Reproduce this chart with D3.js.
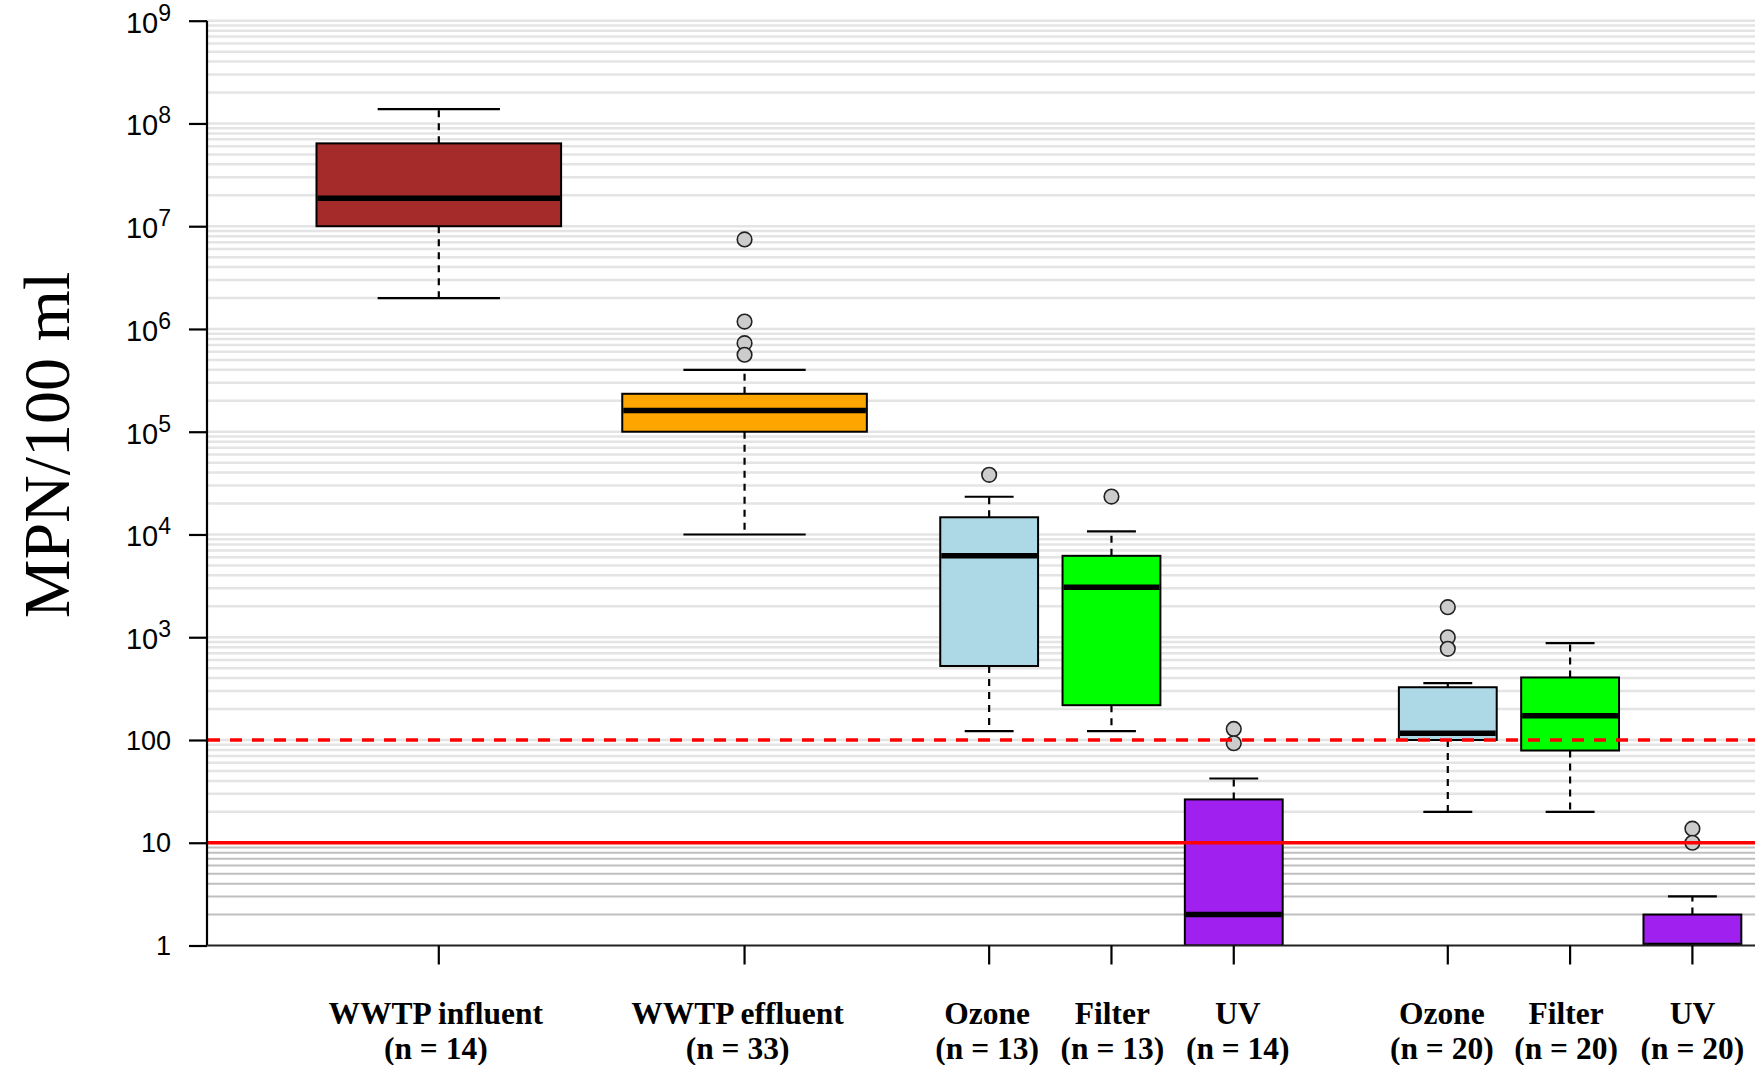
<!DOCTYPE html>
<html>
<head>
<meta charset="utf-8">
<script src="https://cdn.jsdelivr.net/npm/d3@7"></script>
<style>
  html, body { margin: 0; padding: 0; background: #fff; }
  svg { display: block; }
</style>
</head>
<body>
<svg id="chart" width="1755" height="1065"></svg>
<script>
// ---- data: MPN per 100 ml, five-number summaries per sampling point ----
const groupLabels  = ["WWTP influent", "WWTP effluent", "Ozone", "Filter", "UV", "Ozone", "Filter", "UV"];
const sampleCounts = [14, 33, 13, 13, 14, 20, 20, 20];
const whiskerLow   = [2.0e6, 1.0e4, 122, 122, 1, 20, 20, 1];
const quartile1    = [1.0e7, 1.0e5, 525, 218, 1, 100, 79, 1];
const medians      = [1.87e7, 1.61e5, 6200, 3070, 2, 116, 172, 1];
const quartile3    = [6.4e7, 2.34e5, 1.47e4, 6200, 26.4, 326, 406, 2];
const whiskerHigh  = [1.38e8, 4.0e5, 2.33e4, 1.07e4, 42.2, 357, 875, 3];
const outliers     = [[], [7.43e6, 1.18e6, 7.28e5, 5.61e5], [3.81e4], [2.34e4], [128, 93], [1960, 1000, 772], [], [13.7, 10]];
const yTickValues  = [1, 10, 100, 1e3, 1e4, 1e5, 1e6, 1e7, 1e8, 1e9];
const limitSolid   = 10;
const limitDashed  = 100;
const yTitle       = "MPN/100 ml";

// ---- styling ----
const fillColors = ["#A52A2A", "#FFA500", "#ADD8E6", "#00FF00", "#A020F0", "#ADD8E6", "#00FF00", "#A020F0"];

// ---- layout ----
const W = 1755, H = 1065;
const axisX = 207, plotRight = W;
const slots = [1, 3.5, 5.5, 6.5, 7.5, 9.25, 10.25, 11.25];      // box centres in slot units
const boxWidthUnits = [2, 2, 0.8, 0.8, 0.8, 0.8, 0.8, 0.8];
const labelShift = [-3, -7, -2, 1, 4, -6, -4, 0];                // nudges for the category captions (px)

const svg = d3.select("#chart");

const x = d3.scaleLinear().domain([1, 11.25]).range([438.8, 1692.4]);
const unit = x(2) - x(1);
const y = d3.scaleLog().domain([1, 1e9]).range([945.5, 20.7]);

const rows = groupLabels.map((label, i) => ({
  label, n: sampleCounts[i],
  lo: whiskerLow[i], q1: quartile1[i], med: medians[i], q3: quartile3[i], hi: whiskerHigh[i],
  out: outliers[i], fill: fillColors[i],
  cx: x(slots[i]), w: boxWidthUnits[i] * unit, shift: labelShift[i]
}));

// clip region = plotting area
svg.append("defs").append("clipPath").attr("id", "plotClip")
  .append("rect").attr("x", axisX).attr("y", 0).attr("width", plotRight - axisX).attr("height", y(1));

// ---- background grid: every 1..9 x 10^k ----
const gridVals = [];
for (let k = 0; k < 9; k++) for (let m = 1; m <= 9; m++) gridVals.push(m * Math.pow(10, k));
gridVals.push(1e9);
svg.append("g").selectAll("line").data(gridVals.filter(v => v > 1)).join("line")
  .attr("x1", axisX + 1).attr("x2", plotRight)
  .attr("y1", d => y(d)).attr("y2", d => y(d))
  .attr("stroke", d => d < 10 ? "#bfbfbf" : "#e4e4e4")
  .attr("stroke-width", d => d < 10 ? 2 : 2.5);

// ---- boxes ----
const gBox = svg.append("g").attr("clip-path", "url(#plotClip)");
rows.forEach(r => {
  const g = gBox.append("g");
  // whiskers (dashed)
  g.append("line").attr("x1", r.cx).attr("x2", r.cx).attr("y1", y(r.q3)).attr("y2", y(r.hi))
    .attr("stroke", "#000").attr("stroke-width", 2.2).attr("stroke-dasharray", "7,6");
  g.append("line").attr("x1", r.cx).attr("x2", r.cx).attr("y1", y(r.q1)).attr("y2", y(r.lo))
    .attr("stroke", "#000").attr("stroke-width", 2.2).attr("stroke-dasharray", "7,6");
  // staples
  [r.hi, r.lo].forEach(v => {
    if (v === r.q1 || v === r.q3) return;
    g.append("line").attr("x1", r.cx - r.w / 4).attr("x2", r.cx + r.w / 4)
      .attr("y1", y(v)).attr("y2", y(v)).attr("stroke", "#000").attr("stroke-width", 2.2);
  });
  // box
  g.append("rect").attr("x", r.cx - r.w / 2).attr("width", r.w)
    .attr("y", y(r.q3)).attr("height", y(r.q1) - y(r.q3))
    .attr("fill", r.fill).attr("stroke", "#000").attr("stroke-width", 2);
  // median
  g.append("line").attr("x1", r.cx - r.w / 2 + 1).attr("x2", r.cx + r.w / 2 - 1)
    .attr("y1", y(r.med)).attr("y2", y(r.med)).attr("stroke", "#000").attr("stroke-width", 5.5);
  // outliers
  g.selectAll("circle").data(r.out).join("circle")
    .attr("cx", r.cx).attr("cy", d => y(d)).attr("r", 7.3)
    .attr("fill", "#cccccc").attr("stroke", "#222").attr("stroke-width", 1.6);
});

// ---- guideline values ----
svg.append("line").attr("x1", axisX + 1).attr("x2", plotRight)
  .attr("y1", y(limitDashed)).attr("y2", y(limitDashed))
  .attr("stroke", "#ff0000").attr("stroke-width", 3.5).attr("stroke-dasharray", "12,10");
svg.append("line").attr("x1", axisX + 1).attr("x2", plotRight)
  .attr("y1", y(limitSolid)).attr("y2", y(limitSolid))
  .attr("stroke", "#ff0000").attr("stroke-width", 3.5);

// ---- y axis ----
const yAxis = d3.axisLeft(y).tickValues(yTickValues).tickSize(18).tickFormat(() => "");
const gy = svg.append("g").attr("transform", `translate(${axisX},0)`).call(yAxis);
gy.select(".domain").attr("stroke", "#000").attr("stroke-width", 2.2).attr("d", `M0,${y(1e9)}V${y(1)}`);
gy.selectAll(".tick line").attr("stroke", "#000").attr("stroke-width", 2.2);

const yLab = svg.append("g").attr("font-family", "'Liberation Sans', Arial, sans-serif").attr("fill", "#000");
yTickValues.forEach(v => {
  const yy = y(v);
  const t = yLab.append("text").attr("x", 171).attr("text-anchor", "end");
  if (v >= 1000) {
    const e = Math.round(Math.log10(v));
    t.attr("y", yy + 12).attr("font-size", 29);
    t.append("tspan").text("10");
    t.append("tspan").attr("font-size", 23).attr("dy", -12).text(String(e));
  } else {
    t.attr("y", yy + 9.7).attr("font-size", 27).text(String(v));
  }
});

// ---- x axis ----
svg.append("line").attr("x1", axisX).attr("x2", plotRight).attr("y1", y(1)).attr("y2", y(1))
  .attr("stroke", "#222").attr("stroke-width", 2.2);
svg.append("g").selectAll("line").data(rows).join("line")
  .attr("x1", d => d.cx).attr("x2", d => d.cx)
  .attr("y1", y(1)).attr("y2", y(1) + 19)
  .attr("stroke", "#000").attr("stroke-width", 2.2);

const xLab = svg.append("g").attr("font-family", "'Liberation Serif', 'Times New Roman', serif")
  .attr("font-weight", "bold").attr("font-size", 31.5).attr("text-anchor", "middle").attr("fill", "#000");
rows.forEach(r => {
  const t = xLab.append("text").attr("y", 1024);
  t.append("tspan").attr("x", r.cx + r.shift).text(r.label);
  t.append("tspan").attr("x", r.cx + r.shift).attr("dy", 35).text(`(n = ${r.n})`);
});

// ---- y title ----
svg.append("text")
  .attr("transform", "translate(69,445) rotate(-90)")
  .attr("text-anchor", "middle")
  .attr("font-family", "'Liberation Serif', 'Times New Roman', serif")
  .attr("font-size", 66).attr("fill", "#000")
  .text(yTitle);
</script>
</body>
</html>
